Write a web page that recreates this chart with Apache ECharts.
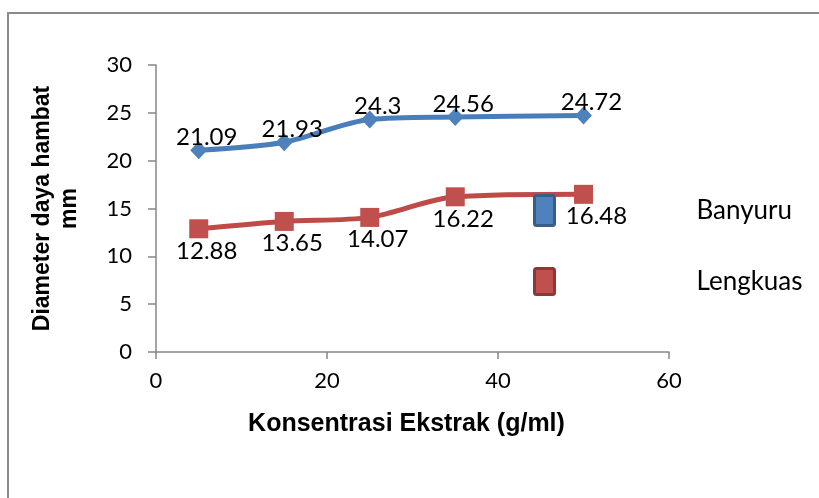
<!DOCTYPE html>
<html>
<head>
<meta charset="utf-8">
<script src="https://cdn.jsdelivr.net/npm/echarts@6/dist/echarts.min.js"></script>
<style>
  html, body { margin: 0; padding: 0; background: #fff; overflow: hidden; }
  #frame { position: absolute; left: 7px; top: 12px; width: 900px; height: 600px; border: 2px solid #8a8a8a; }
  #chart { position: absolute; left: 0; top: 0; width: 819px; height: 498px; }
</style>
</head>
<body>
<div id="frame"></div>
<div id="chart"></div>
<script>
// Concentration of extract (g/ml)
const konsentrasi = [5, 15, 25, 35, 50];
// Inhibition zone diameter (mm)
const banyuru = [21.09, 21.93, 24.3, 24.56, 24.72];
const lengkuas = [12.88, 13.65, 14.07, 16.22, 16.48];
const seriesNames = ['Banyuru', 'Lengkuas'];
const xTicks = [0, 20, 40, 60];
const yTicks = [0, 5, 10, 15, 20, 25, 30];

const axisGrey = '#868686';
const labelFont = 'Lato, "Open Sans", sans-serif';
const titleFont = '"Liberation Sans", Arial, sans-serif';

function pairs(xs, ys) { return xs.map((x, i) => [x, ys[i]]); }

const chart = echarts.init(document.getElementById('chart'), null, { renderer: 'canvas' });

chart.setOption({
  animation: false,
  backgroundColor: 'transparent',
  grid: { left: 156, right: 150, top: 65, bottom: 146, containLabel: false },
  xAxis: {
    type: 'value',
    min: xTicks[0], max: xTicks[xTicks.length - 1], interval: 20,
    name: 'Konsentrasi Ekstrak (g/ml)',
    nameLocation: 'middle', nameGap: 60,
    nameTextStyle: { fontFamily: titleFont, fontWeight: 'bold', fontSize: 25, color: '#000', padding: [0, 12, 0, 0] },
    axisLine: { lineStyle: { color: axisGrey, width: 1.5 } },
    axisTick: { show: true, inside: false, length: 7, lineStyle: { color: axisGrey, width: 1.5 } },
    axisLabel: { fontFamily: labelFont, fontSize: 22, color: '#000', margin: 18 },
    splitLine: { show: false }
  },
  yAxis: {
    type: 'value',
    min: yTicks[0], max: yTicks[yTicks.length - 1], interval: 5,
    name: 'Diameter daya hambat\nmm',
    nameLocation: 'middle', nameGap: 73,
    nameTextStyle: { fontFamily: titleFont, fontWeight: 'bold', fontSize: 23, color: '#000', lineHeight: 27 },
    axisLine: { show: true, lineStyle: { color: axisGrey, width: 1.5 } },
    axisTick: { show: true, inside: false, length: 8, lineStyle: { color: axisGrey, width: 1.5 } },
    axisLabel: { fontFamily: labelFont, fontSize: 22, color: '#000', margin: 24 },
    splitLine: { show: false }
  },
  legend: {
    orient: 'vertical',
    left: 533, top: 194, padding: 0,
    itemWidth: 20, itemHeight: 30, itemGap: 40,
    textStyle: { fontFamily: labelFont, fontSize: 26, color: '#000', padding: [14, 0, 0, 137] },
    data: [
      { name: seriesNames[0], icon: 'path://M2,0 L18,0 Q20,0 20,2 L20,28 Q20,30 18,30 L2,30 Q0,30 0,28 L0,2 Q0,0 2,0 Z', itemStyle: { color: '#4F81BD', borderColor: '#385D8A', borderWidth: 3 } },
      { name: seriesNames[1], icon: 'path://M2,0 L18,0 Q20,0 20,2 L20,24 Q20,26 18,26 L2,26 Q0,26 0,24 L0,2 Q0,0 2,0 Z', itemStyle: { color: '#C0504D', borderColor: '#8C3836', borderWidth: 3 } }
    ]
  },
  series: [
    {
      name: seriesNames[0],
      type: 'line',
      smooth: 0.3,
      data: pairs(konsentrasi, banyuru),
      symbol: 'diamond', symbolSize: [17, 18],
      lineStyle: { color: '#4A7EBB', width: 5 },
      itemStyle: { color: '#4F81BD' },
      label: {
        show: true, position: 'inside', offset: [8, -13],
        fontFamily: labelFont, fontSize: 24, color: '#000',
        formatter: p => String(p.value[1])
      },
      z: 3
    },
    {
      name: seriesNames[1],
      type: 'line',
      smooth: 0.3,
      data: pairs(konsentrasi, lengkuas).map((d, i) => i === konsentrasi.length - 1
        ? { value: d, label: { offset: [13, 22] } } : d),
      symbol: 'rect', symbolSize: 19,
      lineStyle: { color: '#BE4B48', width: 5 },
      itemStyle: { color: '#C0504D' },
      label: {
        show: true, position: 'inside', offset: [8, 22],
        fontFamily: labelFont, fontSize: 24, color: '#000',
        formatter: p => String(p.value[1])
      },
      z: 2
    }
  ]
});
</script>
</body>
</html>
